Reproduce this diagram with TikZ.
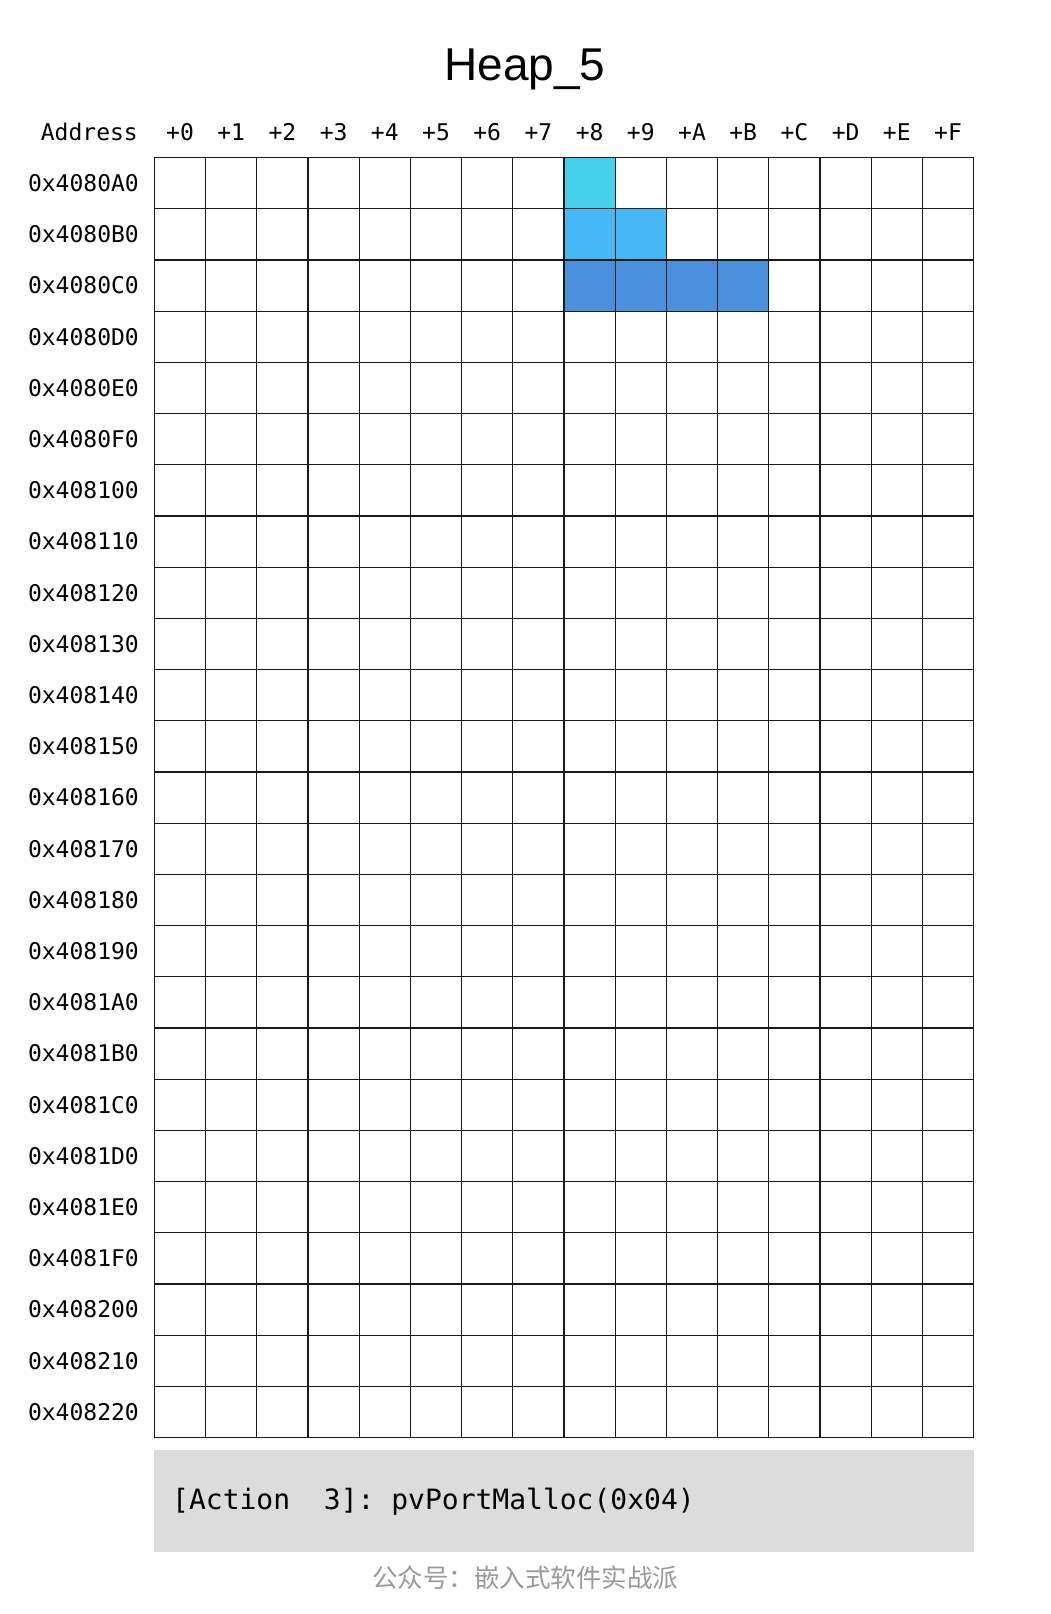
\documentclass[tikz,border=0pt]{standalone}
\usepackage{fontspec}
\setmainfont{Liberation Sans}
\setmonofont{DejaVu Sans Mono}
\newfontfamily\cjkfont{Noto Sans CJK SC}
\definecolor{cellA}{HTML}{45D0EE}
\definecolor{cellB}{HTML}{45B8F5}
\definecolor{cellC}{HTML}{4A90DC}
\definecolor{boxgray}{HTML}{DCDCDC}
\definecolor{gridline}{HTML}{1A1A1A}
\definecolor{wmgray}{HTML}{9A9A9A}
\begin{document}
\begin{tikzpicture}[x=1pt,y=-1pt,
  gridstyle/.style={draw=gridline,line width=1.2pt},
  monolab/.style={inner sep=0pt,font=\fontsize{23}{27}\selectfont\ttfamily},
  titlestyle/.style={inner sep=0pt,font=\fontsize{46}{52}\selectfont},
  actionstyle/.style={inner sep=0pt,font=\fontsize{28}{33}\selectfont\ttfamily},
  wmstyle/.style={inner sep=0pt,text=wmgray,font=\fontsize{25.5}{30}\selectfont\cjkfont}]
\useasboundingbox[fill=white] (0,0) rectangle (1050,1614);
\pgfmathsetmacro{\gl}{154.4}
\pgfmathsetmacro{\gt}{157.5}
\pgfmathsetmacro{\cw}{51.2}
% title
\node[titlestyle,anchor=base] (title) at (525,80) {Heap\_5};
% coloured cells
\fill[cellA] (\gl+8*\cw,\gt) rectangle ++(\cw,\cw);
\fill[cellB] (\gl+8*\cw,\gt+\cw) rectangle ++(2*\cw,\cw);
\fill[cellC] (\gl+8*\cw,\gt+2*\cw) rectangle ++(4*\cw,\cw);
% grid
\foreach \i in {0,...,16}
  \draw[gridstyle] (\gl+\i*\cw,\gt) -- (\gl+\i*\cw,\gt+25*\cw);
\foreach \j in {0,...,25}
  \draw[gridstyle] (\gl,\gt+\j*\cw) -- (\gl+16*\cw,\gt+\j*\cw);
% header
\node[monolab,anchor=east] (addr) at (138,132) {Address};
\foreach \lab [count=\i from 0] in {+0,+1,+2,+3,+4,+5,+6,+7,+8,+9,+A,+B,+C,+D,+E,+F}
  \node[monolab] (c\i) at (\gl+\i*\cw+0.5*\cw,132) {\lab};
% row labels
\foreach \a [count=\i from 0] in {4080A0,4080B0,4080C0,4080D0,4080E0,4080F0,408100,408110,408120,408130,408140,408150,408160,408170,408180,408190,4081A0,4081B0,4081C0,4081D0,4081E0,4081F0,408200,408210,408220}
  \node[monolab,anchor=east] (r\i) at (139,\gt+\i*\cw+0.5*\cw) {0x\a};
% action box
\fill[boxgray] (\gl,1449.5) rectangle (\gl+16*\cw,1552.4);
\node[actionstyle,anchor=west] (action) at (172,1502) {[Action\ \ 3]: pvPortMalloc(0x04)};
% watermark
\node[wmstyle] (wm) at (525,1578) {公众号：嵌入式软件实战派};
\end{tikzpicture}
\end{document}
